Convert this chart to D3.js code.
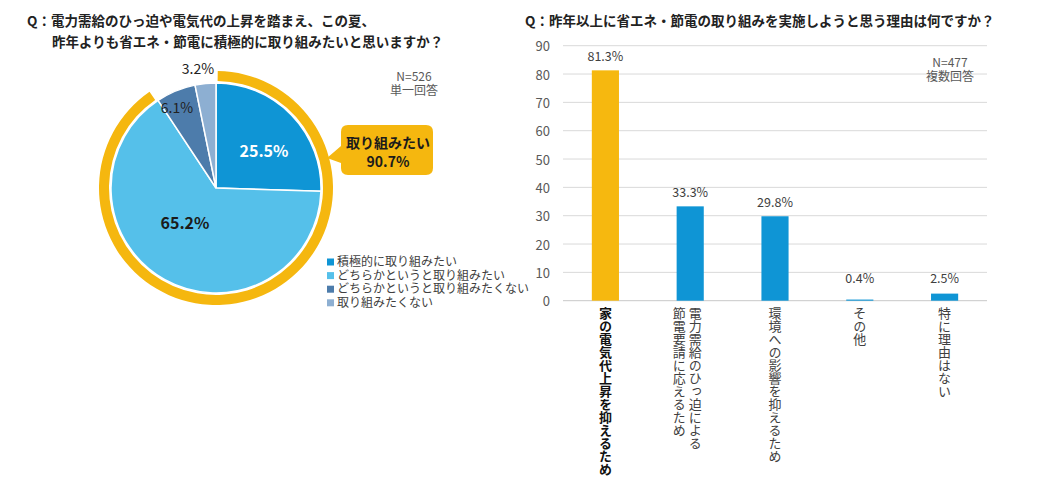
<!DOCTYPE html>
<html><head><meta charset="utf-8">
<script src="https://cdn.jsdelivr.net/npm/d3@7"></script>
<style>
html,body{margin:0;padding:0;background:#fff;}
text{font-family:"Noto Sans CJK JP","Noto Sans",sans-serif;}
</style></head>
<body><svg id="c" width="1040" height="484"></svg>
<script>
// ---- Data ----
const pieCategories = ["積極的に取り組みたい","どちらかというと取り組みたい","どちらかというと取り組みたくない","取り組みたくない"];
const pieValues = [25.5, 65.2, 6.1, 3.2];
const pieColors = ["#0f95d5","#55c0ea","#4d7cab","#8dafd2"];
const pieTitle = ["Q：電力需給のひっ迫や電気代の上昇を踏まえ、この夏、","昨年よりも省エネ・節電に積極的に取り組みたいと思いますか？"];
const pieNote = ["N=526","単一回答"];
const calloutText = ["取り組みたい","90.7%"];

const barCategories = [["家の電気代上昇を抑えるため"],["電力需給のひっ迫による","節電要請に応えるため"],["環境への影響を抑えるため"],["その他"],["特に理由はない"]];
const barValues = [81.3, 33.3, 29.8, 0.4, 2.5];
const barColors = ["#f6b80f","#0f95d5","#0f95d5","#0f95d5","#0f95d5"];
const barTicks = [0,10,20,30,40,50,60,70,80,90];
const barTitle = "Q：昨年以上に省エネ・節電の取り組みを実施しようと思う理由は何ですか？";
const barNote = ["N=477","複数回答"];

const svg = d3.select("#c");
svg.append("rect").attr("width",1040).attr("height",484).attr("fill","#fff");

// ---- Left: pie ----
svg.append("text").attr("x",27).attr("y",26).attr("font-size",13.5).attr("font-weight","bold").attr("fill","#222").text(pieTitle[0]);
svg.append("text").attr("x",52).attr("y",47).attr("font-size",13.5).attr("font-weight","bold").attr("fill","#222").text(pieTitle[1]);

const cx = 216, cy = 188, R = 105;
const g = svg.append("g").attr("transform",`translate(${cx},${cy})`);
const pie = d3.pie().sort(null).value(d=>d);
const arcs = pie(pieValues);
const arc = d3.arc().innerRadius(0).outerRadius(R);
g.selectAll("path.s").data(arcs).join("path").attr("class","s")
 .attr("d",arc).attr("fill",(d,i)=>pieColors[i]).attr("stroke","#fff").attr("stroke-width",1.5);

// ring around "want to" slices
const ringEnd = arcs[1].endAngle;
g.append("path").attr("d", d3.arc().innerRadius(107).outerRadius(117).startAngle(0.015).endAngle(ringEnd-0.02)())
 .attr("fill","#f5b70f");

// pie labels
const lab = [
  {i:0, dx:48, dy:-38, fill:"#fff", w:"bold", s:16},
  {i:1, dx:-31, dy:34, fill:"#1b1b1b", w:"bold", s:16},
  {i:2, dx:-39, dy:-81, fill:"#222", w:"normal", s:14},
  {i:3, dx:-18, dy:-120, fill:"#222", w:"normal", s:14}
];
lab.forEach(l=>{
  g.append("text").attr("x",l.dx).attr("y",l.dy).attr("text-anchor","middle").attr("dominant-baseline","central")
   .attr("font-size",l.s).attr("font-weight",l.w).attr("fill",l.fill)
   .text(d3.format(".1f")(pieValues[l.i])+"%");
});

// callout
const co = svg.append("g");
const x0=341,y0=125,x1=433,y1=175,r=7;
co.append("path").attr("fill","#f5b70f").attr("d",
  `M${x0+r},${y0} H${x1-r} Q${x1},${y0} ${x1},${y0+r} V${y1-r} Q${x1},${y1} ${x1-r},${y1} H${x0+r} Q${x0},${y1} ${x0},${y1-r} V163 L327,158 L${x0},146 V${y0+r} Q${x0},${y0} ${x0+r},${y0} Z`);
const ct = co.append("text").attr("text-anchor","middle").attr("font-size",14).attr("font-weight","bold").attr("fill","#1b1b1b");
calloutText.forEach((t,i)=>ct.append("tspan").attr("x",388).attr("y",148+i*19).text(t));

const pn = svg.append("text").attr("text-anchor","middle").attr("font-size",12).attr("fill","#595959");
pieNote.forEach((t,i)=>pn.append("tspan").attr("x",414).attr("y",81+i*14).text(t));

// legend
const lg = svg.append("g");
const lgt = lg.append("text").attr("font-size",12).attr("fill","#404040");
pieCategories.forEach((c,i)=>{
  const yy = 262 + i*13.6;
  lg.append("rect").attr("x",327).attr("y",yy-3.5).attr("width",7).attr("height",7).attr("fill",pieColors[i]);
  lgt.append("tspan").attr("x",337).attr("y",yy+4.2).text(c);
});

// ---- Right: bar chart ----
svg.append("text").attr("x",525).attr("y",26).attr("font-size",13.5).attr("font-weight","bold").attr("fill","#222").text(barTitle);

const x = d3.scaleBand().domain(d3.range(barValues.length)).range([563,987]).paddingInner(0.68).paddingOuter(0.34);
const y = d3.scaleLinear().domain([0,90]).range([300.7,45.7]);

const grid = svg.append("g");
barTicks.forEach(t=>{
  grid.append("line").attr("x1",563).attr("x2",987).attr("y1",y(t)).attr("y2",y(t))
   .attr("stroke", t===0 ? "#c8c8c8" : "#d9d9d9").attr("stroke-width",1);
  grid.append("text").attr("x",550).attr("y",y(t)).attr("text-anchor","end").attr("dominant-baseline","central")
   .attr("font-size",13).attr("fill","#595959").text(t);
});

svg.selectAll("rect.bar").data(barValues).join("rect").attr("class","bar")
 .attr("x",(d,i)=>x(i)).attr("width",x.bandwidth())
 .attr("y",d=>y(d)).attr("height",d=>y(0)-y(d))
 .attr("fill",(d,i)=>barColors[i]);

svg.selectAll("text.vl").data(barValues).join("text").attr("class","vl")
 .attr("x",(d,i)=>x(i)+x.bandwidth()/2).attr("y",d=>y(Math.max(d,3))-15)
 .attr("text-anchor","middle").attr("dominant-baseline","central")
 .attr("font-size",12.5).attr("fill","#404040").text(d=>d3.format(".1f")(d)+"%");

const bn = svg.append("text").attr("text-anchor","middle").attr("font-size",12).attr("fill","#595959");
barNote.forEach((t,i)=>bn.append("tspan").attr("x",950).attr("y",67+i*13.5).text(t));

// vertical category labels
barCategories.forEach((lines,i)=>{
  const c = x(i)+x.bandwidth()/2;
  const n = lines.length;
  const tx = svg.append("text")
      .style("writing-mode","vertical-rl").style("text-orientation","upright")
      .attr("font-size",13)
      .attr("font-weight", i===0 ? "bold" : "normal")
      .attr("fill", i===0 ? "#111" : "#404040");
  lines.forEach((t,j)=>{
    const xx = c + (n===1 ? 0 : ((n-1)/2 - j)*16 - 3);
    tx.append("tspan").attr("x",xx).attr("y",307).text(t);
  });
});
</script></body></html>
